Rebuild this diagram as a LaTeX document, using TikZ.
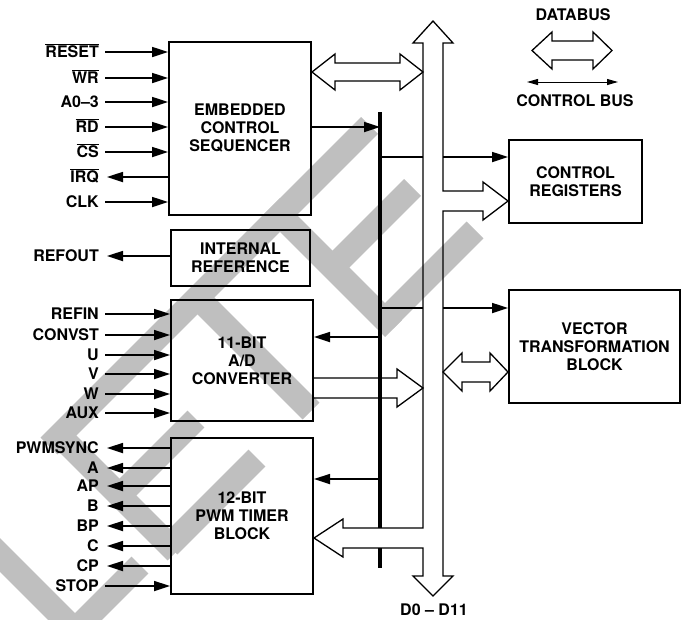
\documentclass[tikz,border=0pt]{standalone}
\usepackage{fontspec}
\setmainfont{TeX Gyre Heros}
\usetikzlibrary{arrows.meta}

\tikzset{
    blk/.style={draw, line width=2pt, align=center, inner sep=0pt, font=\fontsize{16}{18}\selectfont\bfseries},
    pinlbl/.style={anchor=east, inner sep=0pt, text height=11.5pt, text depth=0pt, font=\fontsize{16}{18}\selectfont\bfseries},
    txt/.style={inner sep=0pt, font=\fontsize{16}{18}\selectfont\bfseries},
    sig/.style={line width=1.7pt, -{Triangle[length=16pt,width=10pt]}},
    ctl/.style={line width=1.7pt},
    bus/.style={line width=1.3pt, line join=miter},
    wm/.style={line width=24pt, black!25}
}

\begin{document}
\begin{tikzpicture}[x=1pt, y=-1pt]
    \useasboundingbox (0,0) rectangle (684,619);

    % watermark
    \begin{scope}
        \clip (0,0) rectangle (684,619);
        \draw[wm] (49,446) -- (369.5,125.5);
        \draw[wm] (52,428) -- (176,552);
        \draw[wm] (119,496) -- (196,419);
        \draw[wm] (169,546) -- (257,458);
        \draw[wm] (197.5,297.5) -- (311,411);
        \draw[wm] (271.5,206.5) -- (393.5,328.5);
        \draw[wm] (332.5,267.5) -- (412.5,187.5);
        \draw[wm] (385,320) -- (475,230);
        \draw[wm] (-87.5,467.5) -- (83.5,638.5);
        \draw[wm] (75,630) -- (140,565);
    \end{scope}

    % blocks
    \node[blk, minimum width=142pt, minimum height=173pt] (seq) at (240,128.5) {EMBEDDED\\CONTROL\\SEQUENCER};
    \node[blk, minimum width=139pt, minimum height=56pt] (iref) at (240.5,258) {INTERNAL\\REFERENCE};
    \node[blk, minimum width=142pt, minimum height=121pt] (adc) at (242,360.5) {11-BIT\\A/D\\CONVERTER};
    \node[blk, minimum width=142pt, minimum height=156pt] (pwm) at (242,516) {12-BIT\\PWM TIMER\\BLOCK};
    \node[blk, minimum width=133pt, minimum height=83pt] (creg) at (575.5,181.5) {CONTROL\\REGISTERS};
    \node[blk, minimum width=171pt, minimum height=113pt] (vtb) at (594.5,346.5) {VECTOR\\TRANSFORMATION\\BLOCK};

    % pins of the sequencer
    \foreach \nm/\tx/\yy in {rst/{$\overline{\hbox{RESET}}$}/52, wr/{$\overline{\hbox{WR}}$}/78, a/{A0--3}/102,
        rd/{$\overline{\hbox{RD}}$}/127, cs/{$\overline{\hbox{CS}}$}/152, irq/{$\overline{\hbox{IRQ}}$}/177, clk/CLK/202}
        \node[pinlbl] (s\nm) at (99,\yy) {\tx};
    \foreach \nm in {rst,wr,a,rd,cs,clk}
        \draw[sig] ([xshift=6pt]s\nm.east) -- (seq.west |- s\nm.east);
    \draw[sig] (seq.west |- sirq.east) -- ([xshift=8pt]sirq.east);

    % reference
    \node[pinlbl] (refout) at (99,256) {REFOUT};
    \draw[sig] (iref.west |- refout.east) -- ([xshift=8pt]refout.east);

    % pins of the converter
    \foreach \nm/\tx/\yy in {refin/REFIN/314, convst/CONVST/335, u/U/355, v/V/374, w/W/394, aux/AUX/413}
    {
        \node[pinlbl] (d\nm) at (99,\yy) {\tx};
        \draw[sig] ([xshift=6pt]d\nm.east) -- (adc.west |- d\nm.east);
    }

    % pins of the timer
    \foreach \nm/\tx/\yy in {sync/PWMSYNC/448, a/A/468, ap/AP/486, b/B/506, bp/BP/526, c/C/546, cp/CP/566}
    {
        \node[pinlbl] (p\nm) at (99,\yy) {\tx};
        \draw[sig] (pwm.west |- p\nm.east) -- ([xshift=8pt]p\nm.east);
    }
    \node[pinlbl] (pstop) at (99,586) {STOP};
    \draw[sig] ([xshift=6pt]pstop.east) -- (pwm.west |- pstop.east);

    % control bus
    \coordinate (cbt) at (380,112);
    \coordinate (cbb) at (380,568);
    \coordinate (dbl) at (423,0);
    \coordinate (dbr) at (443,0);
    \draw[line width=3.2pt] (cbt) -- (380,528) (380,548) -- (cbb);
    \coordinate (hseq) at (380,127);
    \coordinate (hcr) at (380,157);
    \coordinate (hvt) at (380,308);
    \coordinate (had) at (380,337);
    \coordinate (hpw) at (380,479);
    \draw[sig] (seq.east |- hseq) -- (hseq);
    \draw[ctl] (hcr) -- (dbl |- hcr);
    \draw[sig] (dbr |- hcr) -- (creg.west |- hcr);
    \draw[ctl] (hvt) -- (dbl |- hvt);
    \draw[sig] (dbr |- hvt) -- (vtb.west |- hvt);
    \draw[sig] (had) -- (adc.east |- had);
    \draw[sig] (hpw) -- (pwm.east |- hpw);

    % data bus
    \draw[bus] (423,43) -- (413,43) -- (433,21) -- (453,43) -- (443,43) -- (443,191) -- (483,191) -- (483,182)
        -- (creg.west |- 0,201) -- (483,220) -- (483,211) -- (443,211) -- (443,576) -- (453,576) -- (433,596)
        -- (413,576) -- (423,576) -- (423,548) -- (343,548) -- (343,557) -- (pwm.east |- 0,538) -- (343,519)
        -- (343,528) -- (423,528) -- cycle;
    \draw[bus] (seq.east |- 0,72) -- (335,54) -- (335,63) -- (400,63) -- (400,54) -- (dbl |- 0,72)
        -- (400,90) -- (400,81) -- (335,81) -- (335,90) -- cycle;
    \draw[bus] (adc.east |- 0,378) -- (397,378) -- (397,369) -- (dbl |- 0,388) -- (397,407) -- (397,398)
        -- (adc.east |- 0,398);
    \draw[bus] (dbr |- 0,372) -- (462,353) -- (462,362) -- (490,362) -- (490,353) -- (vtb.west |- 0,372)
        -- (490,391) -- (490,382) -- (462,382) -- (462,391) -- cycle;
    \node[txt] (dlbl) at (434,610) {D0 -- D11};

    % legend
    \node[txt] (lgdb) at (573,15) {DATABUS};
    \draw[bus] (532,50.5) -- (552,32) -- (552,41) -- (593,41) -- (593,32) -- (612,50.5) -- (593,69)
        -- (593,60) -- (552,60) -- (552,69) -- cycle;
    \draw[line width=1pt, {Triangle[length=11pt,width=6pt]}-{Triangle[length=11pt,width=6pt]}] (527,82) -- (618,82);
    \node[txt] (lgcb) at (575,101) {CONTROL BUS};
\end{tikzpicture}
\end{document}
